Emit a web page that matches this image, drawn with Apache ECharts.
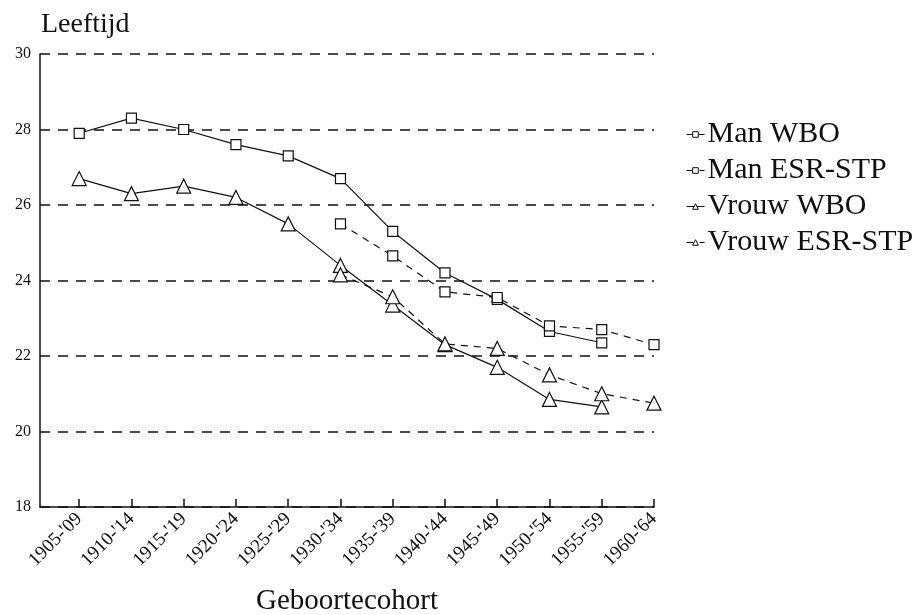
<!DOCTYPE html>
<html>
<head>
<meta charset="utf-8">
<script src="https://cdn.jsdelivr.net/npm/echarts@6/dist/echarts.min.js"></script>
<style>
  html, body { margin: 0; padding: 0; background: #fff; }
  #chart { width: 913px; height: 615px; }
</style>
</head>
<body>
<div id="chart"></div>
<script>
// cohorts on the x axis
var cohorts = ["1905-'09", "1910-'14", "1915-'19", "1920-'24", "1925-'29", "1930-'34",
               "1935-'39", "1940-'44", "1945-'49", "1950-'54", "1955-'59", "1960-'64"];

// mean age
var manWBO    = [27.9, 28.3, 28.0, 27.6, 27.3, 26.7, 25.3, 24.2, 23.5, 22.65, 22.35, null];
var manESR    = [null, null, null, null, null, 25.5, 24.65, 23.7, 23.55, 22.8, 22.7, 22.3];
var vrouwWBO  = [26.7, 26.3, 26.5, 26.2, 25.5, 24.4, 23.35, 22.3, 21.7, 20.85, 20.65, null];
var vrouwESR  = [null, null, null, null, null, 24.15, 23.57, 22.32, 22.2, 21.5, 21.0, 20.75];

var tickIdx = cohorts.map(function (c, i) { return i; });

function pairs(arr) {
    var out = [];
    arr.forEach(function (v, i) {
        if (v !== null) out.push([i, v]);
    });
    return out;
}

var serif = 'Liberation Serif';

function series(name, arr, symbol, size, dashed) {
    return {
        name: name,
        type: 'line',
        data: pairs(arr),
        symbol: symbol,
        symbolSize: size,
        showAllSymbol: true,
        lineStyle: { color: '#111', width: 1.2, type: dashed ? [7, 6] : 'solid' },
        itemStyle: { color: '#fff', borderColor: '#111', borderWidth: 1.2 },
        emphasis: { disabled: true },
        z: 3
    };
}

var chart = echarts.init(document.getElementById('chart'), null, { renderer: 'canvas' });
chart.setOption({
    animation: false,
    backgroundColor: '#fff',
    textStyle: { fontFamily: serif, color: '#111' },
    title: {
        text: 'Leeftijd',
        left: 36,
        top: 6,
        textStyle: { fontFamily: serif, fontSize: 28, fontWeight: 'normal', color: '#111' }
    },
    legend: {
        orient: 'vertical',
        left: 681,
        top: 114,
        itemGap: 5,
        itemWidth: 18,
        itemHeight: 7,
        lineStyle: { width: 1 },
        itemStyle: { borderWidth: 1 },
        textStyle: { fontFamily: serif, fontSize: 30, lineHeight: 31, color: '#111', padding: [0, 0, 0, -2] },
        data: ['Man WBO', 'Man ESR-STP', 'Vrouw WBO', 'Vrouw ESR-STP']
    },
    grid: { left: 40, right: 259, top: 54, bottom: 108, outerBoundsMode: 'none', containLabel: false },
    xAxis: {
        type: 'value',
        min: -0.75,
        max: 11,
        name: 'Geboortecohort',
        nameLocation: 'middle',
        nameGap: 80,
        nameTextStyle: { fontFamily: serif, fontSize: 29, color: '#111' },
        axisLine: { show: true, lineStyle: { color: '#111', width: 1.5 } },
        axisTick: {
            show: true, inside: true, length: 8, customValues: tickIdx,
            lineStyle: { color: '#111', width: 1.5 }
        },
        axisLabel: {
            customValues: tickIdx,
            rotate: 45,
            margin: 9,
            fontFamily: serif,
            fontSize: 19,
            color: '#111',
            formatter: function (v) { return cohorts[Math.round(v)]; }
        },
        splitLine: { show: false }
    },
    yAxis: {
        type: 'value',
        min: 18,
        max: 30,
        interval: 2,
        axisLine: { show: true, onZero: false, lineStyle: { color: '#111', width: 1.5 } },
        axisTick: { show: false },
        axisLabel: { fontFamily: serif, fontSize: 16, color: '#111', margin: 9 },
        splitLine: { show: true, lineStyle: { color: '#111', width: 1.5, type: [10, 8] } }
    },
    series: [
        series('Man WBO', manWBO, 'rect', 10, false),
        series('Man ESR-STP', manESR, 'rect', 10, true),
        series('Vrouw WBO', vrouwWBO, 'triangle', 14, false),
        series('Vrouw ESR-STP', vrouwESR, 'triangle', 14, true)
    ]
});
</script>
</body>
</html>
